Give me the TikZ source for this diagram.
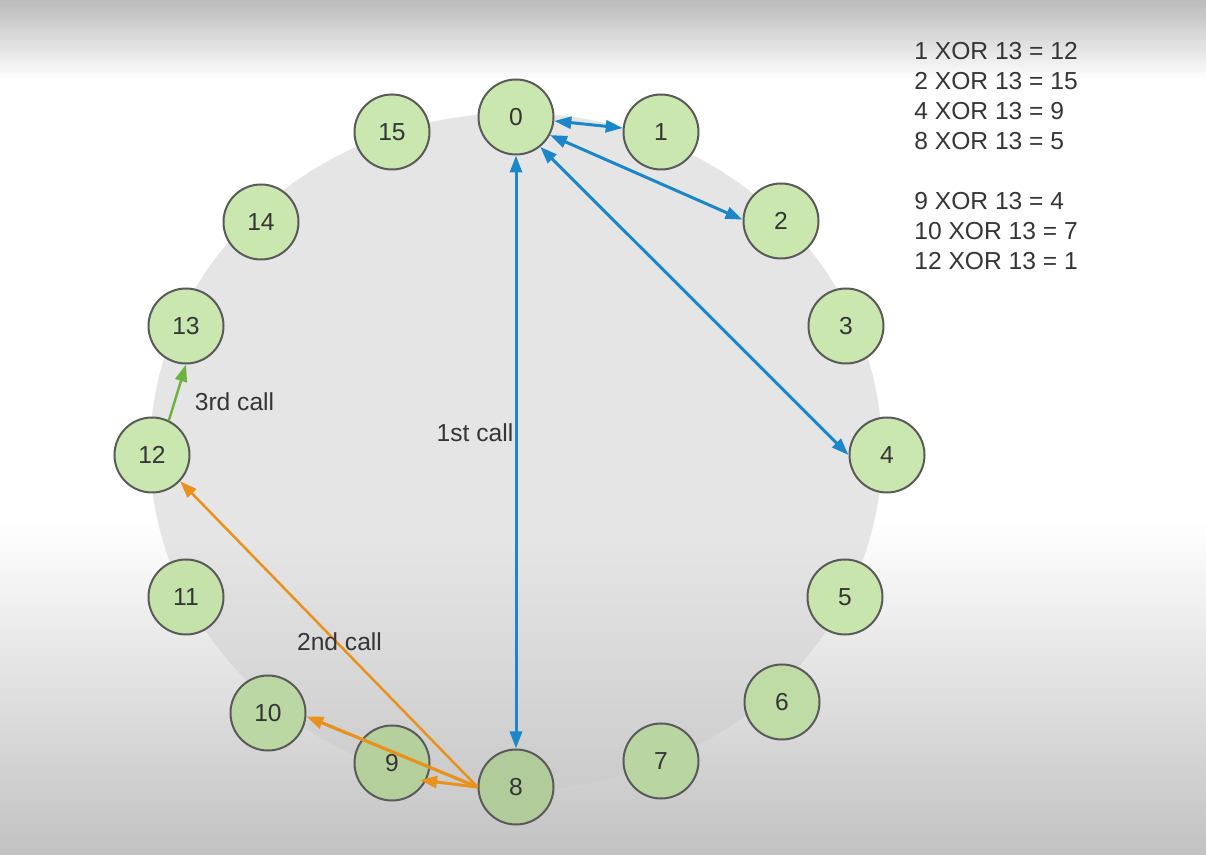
\documentclass[tikz,border=0pt]{standalone}
\usepackage{fontspec}
\setmainfont{Liberation Sans}
\usetikzlibrary{arrows.meta,calc}
\definecolor{nblue}{HTML}{1B86C8}
\definecolor{norange}{HTML}{E8911C}
\definecolor{ngreen}{HTML}{6DB33F}
\definecolor{nnode}{HTML}{C9E7AF}
\definecolor{nedge}{HTML}{5A5A5A}
\definecolor{ntext}{HTML}{353535}
\definecolor{nring}{HTML}{E5E5E5}
\definecolor{nringlow}{HTML}{CBCBCB}
\definecolor{nbgtop}{HTML}{BBBBBB}
\definecolor{nbglow}{HTML}{C2C2C2}
\pgfdeclareverticalshading{backshade}{100bp}{color(0bp)=(nbglow); color(25bp)=(nbglow); color(44.6bp)=(white); color(70.3bp)=(white); color(75bp)=(nbgtop); color(100bp)=(nbgtop)}
\pgfdeclareverticalshading{ringshade}{100bp}{color(0bp)=(nringlow); color(25bp)=(nringlow); color(43.5bp)=(nring); color(100bp)=(nring)}

\begin{document}
\begin{tikzpicture}[x=0.5pt, y=-0.5pt, >={Triangle[length=8.5pt,width=6pt]},
  peer/.style={circle, draw=nedge, line width=1pt, minimum size=37.5pt, inner sep=0pt,
    text=ntext, font=\fontsize{12.3}{14}\selectfont},
  calltext/.style={text=ntext, inner sep=0pt, font=\fontsize{12.3}{14}\selectfont},
  xorline/.style={text=ntext, inner sep=0pt, anchor=west, font=\fontsize{12.3}{14}\selectfont}]
 \useasboundingbox (0,0) rectangle (1206,855);
 \shade[shading=backshade] (0,0) rectangle (1206,855);
 \shade[shading=ringshade] (516,451.5) ellipse [x radius=366, y radius=338.5];
 % peers on the ring
 \foreach \i/\x/\y/\s in {0/516/117/100, 1/661/132/100, 2/781/221/100, 3/846/326/100,
   4/887/455/100, 5/845/597/99, 6/782/702/95, 7/661/761/92, 8/516/787/88, 9/392/763/90,
   10/268/713/93, 11/186/597/98, 12/152/455/100, 13/186/326/100, 14/261/222/100, 15/392/132/100}
   \node[peer, fill=nnode!\s!black] (n\i) at (\x,\y) {\i};
 % 1st call
 \draw[nblue, line width=1.5pt, <->] (n0) -- (n1);
 \draw[nblue, line width=1.5pt, <->] (n0.-28) -- (n2.178);
 \draw[nblue, line width=1.5pt, <->] (n0.-51) -- (n4.180);
 \draw[nblue, line width=1.5pt, <->] (n0) -- (n8);
 % 2nd call
 \coordinate (hit9) at (420,780);
 \draw[norange, line width=1.25pt, ->] (n8.west) -- (n12.-43);
 \draw[norange, line width=1.6pt, ->] (n8.west) -- (n10.-5);
 \draw[norange, line width=1.5pt, ->] (n8.west) -- (hit9);
 % 3rd call
 \draw[ngreen, line width=1.25pt, ->] (n12.64) -- (n13.south);
 \node[calltext] (first) at (475,433) {1st call};
 \node[calltext] (second) at (339.5,642) {2nd call};
 \node[calltext] (third) at (234.5,402) {3rd call};
 \foreach \t/\y [count=\k] in {1 XOR 13 = 12/51, 2 XOR 13 = 15/81, 4 XOR 13 = 9/111,
   8 XOR 13 = 5/141, 9 XOR 13 = 4/201, 10 XOR 13 = 7/231, 12 XOR 13 = 1/261}
   \node[xorline] (xor\k) at (914,\y) {\t};
\end{tikzpicture}
\end{document}
